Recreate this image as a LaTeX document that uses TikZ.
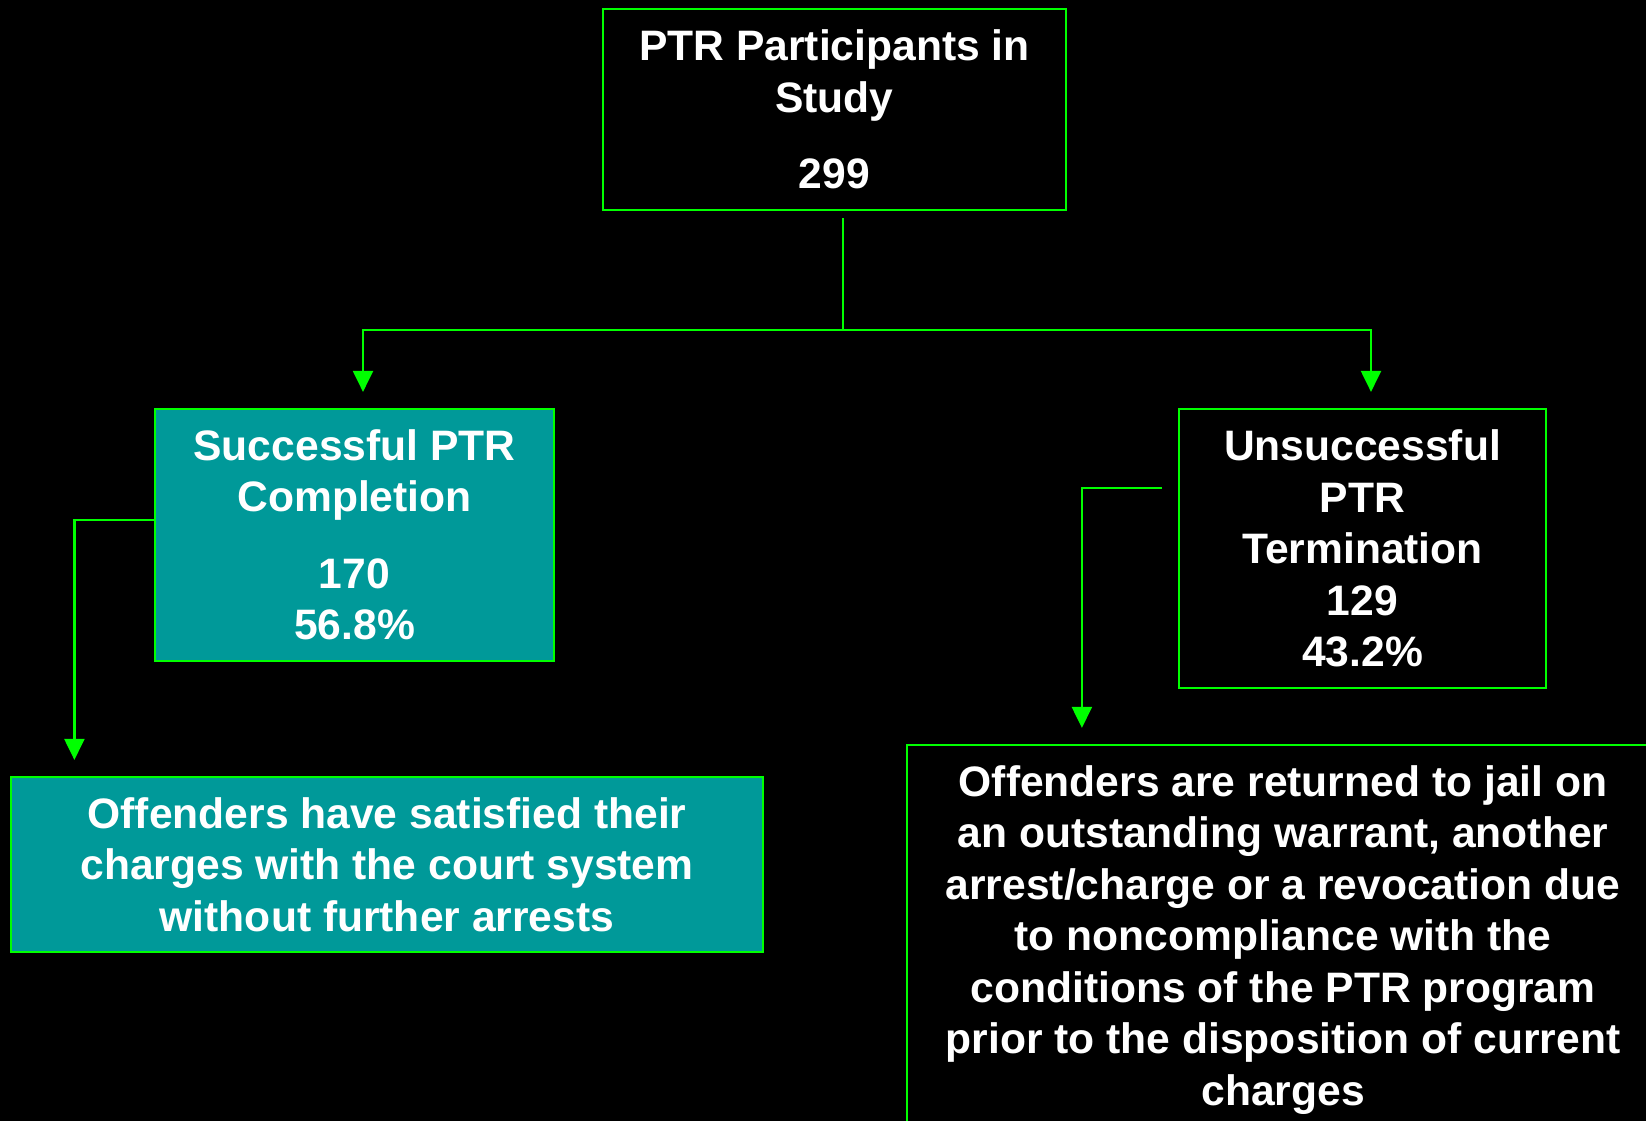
\documentclass[tikz,border=0pt]{standalone}
\usepackage{fontspec}
\setmainfont{Liberation Sans}
\usetikzlibrary{arrows.meta,calc}
\definecolor{lgreen}{RGB}{0,255,0}
\definecolor{tealbox}{RGB}{0,153,153}
\begin{document}
\begin{tikzpicture}[x=1pt,y=-1pt,
  box/.style={draw=lgreen, line width=2.2pt, text=white,
    font=\fontsize{42.6}{51.5}\selectfont\bfseries, align=center, inner sep=0pt},
  conn/.style={draw=lgreen, line width=2.2pt, -{Triangle[length=21pt,width=20pt]}},
  plain/.style={draw=lgreen, line width=2.2pt}]
\fill[black] (0,0) rectangle (1646,1121);
\useasboundingbox (0,0) rectangle (1646,1121);
\clip (0,0) rectangle (1646,1121);

\node[box, minimum width=463pt, minimum height=201pt] (top) at (834.5,109.5)
  {PTR Participants in\\Study\\[25pt]299};
\node[box, fill=tealbox, minimum width=399pt, minimum height=252pt] (succ) at (354.5,535)
  {Successful PTR\\Completion\\[25pt]170\\56.8\%};
\node[box, minimum width=367pt, minimum height=279pt] (unsucc) at (1362.5,548.5)
  {Unsuccessful\\PTR\\Termination\\129\\43.2\%};
\node[box, fill=tealbox, minimum width=752pt, minimum height=175pt] (sat) at (387,864.5)
  {Offenders have satisfied their\\charges with the court system\\without further arrests};
\node[box, minimum width=752pt, minimum height=390pt] (ret) at (1283,940)
  {Offenders are returned to jail on\\an outstanding warrant, another\\arrest/charge or a revocation due\\to noncompliance with the\\conditions of the PTR program\\prior to the disposition of current\\charges};

\coordinate (j) at ($(top.south)+(8.5,118.5)$);
\draw[plain] ($(top.south)+(8.5,7)$) -- (j);
\draw[conn] (j) -| ($(succ.north)+(8.5,-16)$);
\draw[conn] (j) -| ($(unsucc.north)+(8.5,-16)$);
\draw[conn] ($(succ.north west)+(0,112)$) -| ($(sat.north west)+(64.5,-16)$);
\draw[conn] ($(unsucc.north west)+(-16,80)$) -| ($(ret.north west)+(176,-16)$);
\end{tikzpicture}
\end{document}
